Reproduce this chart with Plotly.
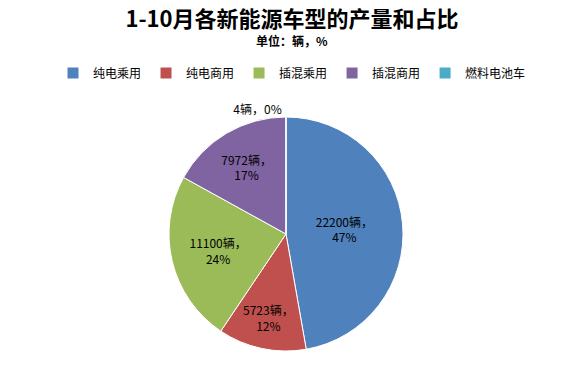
import plotly.graph_objects as go

categories = ["纯电乘用", "纯电商用", "插混乘用", "插混商用", "燃料电池车"]
values = [22200, 5723, 11100, 7972, 4]
pct_labels = ["47%", "12%", "24%", "17%", "0%"]
colors = ["#4F81BD", "#C0504D", "#9BBB59", "#8064A2", "#4BACC6"]

texts = [f"{v}辆，<br>{p}" for v, p in zip(values, pct_labels)]
texts[-1] = f"{values[-1]}辆，{pct_labels[-1]}"

FONT = "Noto Sans CJK SC, Noto Sans, sans-serif"
W, H = 568, 365

fig = go.Figure(go.Pie(
    labels=categories,
    values=values,
    text=texts,
    textinfo="text",
    sort=False,
    direction="clockwise",
    rotation=0,
    marker=dict(colors=colors, line=dict(color="white", width=1)),
    textposition=["inside", "inside", "inside", "inside", "outside"],
    insidetextorientation="horizontal",
    textfont=dict(family=FONT, size=12, color="black"),
    outsidetextfont=dict(family=FONT, size=12, color="black"),
    domain=dict(x=[(169 - 8) / W, (403 - 8) / W], y=[(15 + 7) / H, (249 + 7) / H]),
    hoverinfo="label+value+percent",
))

fig.update_layout(
    width=W, height=H,
    margin=dict(l=0, r=0, t=0, b=0),
    paper_bgcolor="white",
    plot_bgcolor="white",
    font=dict(family=FONT, color="black"),
    uniformtext=dict(minsize=12, mode="show"),
    showlegend=True,
    title=dict(text="<b>1-10月各新能源车型的产量和占比</b>", x=0.5, xanchor="center",
               y=1, yref="container", yanchor="top", pad=dict(t=4, b=0, l=0, r=0),
               font=dict(family=FONT, size=22, color="black")),
    legend=dict(
        orientation="h", x=0.5, xanchor="center", y=1 - 65 / H, yanchor="middle",
        font=dict(family=FONT, size=12, color="black"),
        itemclick=False, itemdoubleclick=False,
    ),
    annotations=[
        dict(text="<b>单位：辆，%</b>", x=0.5, y=1 - 33 / H, xref="paper", yref="paper",
             xanchor="center", yanchor="middle", showarrow=False,
             font=dict(family=FONT, size=12, color="black")),
    ],
)

fig.write_html("out.html")
